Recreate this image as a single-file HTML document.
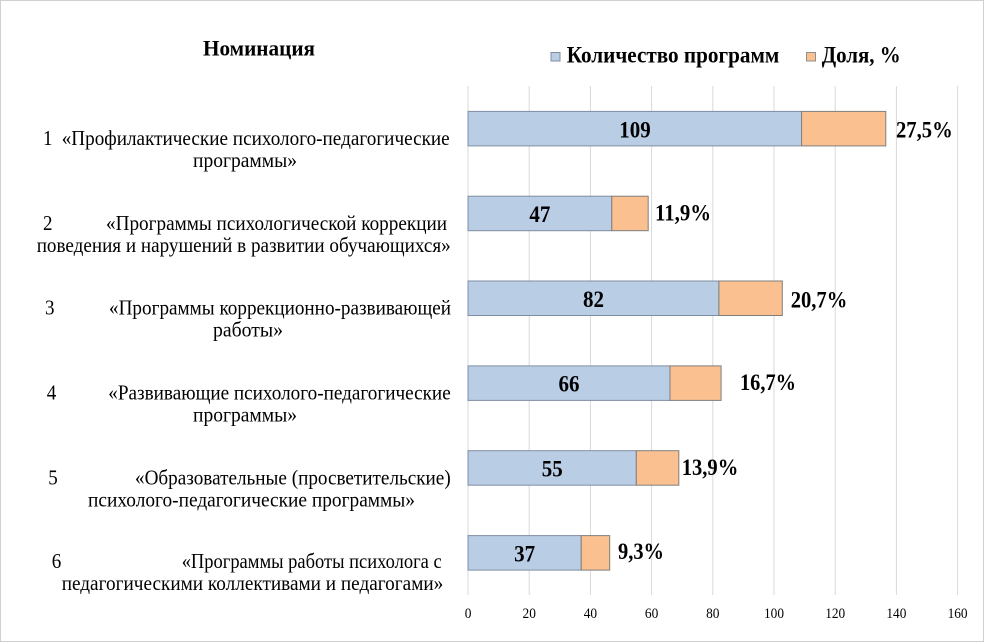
<!DOCTYPE html>
<html>
<head>
<meta charset="utf-8">
<style>
html,body{margin:0;padding:0;background:#fff;}
svg{display:block;}
text{font-family:"Liberation Serif","Noto Serif CJK SC",serif;fill:#000;}
</style>
</head>
<body>
<svg width="984" height="642" viewBox="0 0 984 642" xmlns="http://www.w3.org/2000/svg">
<rect x="0.5" y="0.5" width="983" height="641" fill="#fff" stroke="#d0d0d0" stroke-width="1"/>

<!-- gridlines -->
<g stroke="#d9d9d9" stroke-width="1">
<line x1="468" y1="86" x2="468" y2="595"/>
<line x1="529.2" y1="86" x2="529.2" y2="595"/>
<line x1="590.4" y1="86" x2="590.4" y2="595"/>
<line x1="651.6" y1="86" x2="651.6" y2="595"/>
<line x1="712.8" y1="86" x2="712.8" y2="595"/>
<line x1="774" y1="86" x2="774" y2="595"/>
<line x1="835.2" y1="86" x2="835.2" y2="595"/>
<line x1="896.4" y1="86" x2="896.4" y2="595"/>
<line x1="957.6" y1="86" x2="957.6" y2="595"/>
</g>

<!-- tick labels -->
<g font-size="15">
<text x="464.7" y="618" textLength="6.7" lengthAdjust="spacingAndGlyphs">0</text>
<text x="522.5" y="618" textLength="13.4" lengthAdjust="spacingAndGlyphs">20</text>
<text x="583.7" y="618" textLength="13.4" lengthAdjust="spacingAndGlyphs">40</text>
<text x="644.9" y="618" textLength="13.4" lengthAdjust="spacingAndGlyphs">60</text>
<text x="706.1" y="618" textLength="13.4" lengthAdjust="spacingAndGlyphs">80</text>
<text x="764" y="618" textLength="20" lengthAdjust="spacingAndGlyphs">100</text>
<text x="825.2" y="618" textLength="20" lengthAdjust="spacingAndGlyphs">120</text>
<text x="886.4" y="618" textLength="20" lengthAdjust="spacingAndGlyphs">140</text>
<text x="947.6" y="618" textLength="20" lengthAdjust="spacingAndGlyphs">160</text>
</g>

<!-- title & legend -->
<text x="203" y="55.5" font-size="22" font-weight="bold" textLength="112" lengthAdjust="spacingAndGlyphs">Номинация</text>
<rect x="551" y="52.5" width="9" height="8.5" fill="#b9cde5" stroke="#7f8ea3" stroke-width="1"/>
<text x="566.7" y="62.3" font-size="23" font-weight="bold" textLength="212.6" lengthAdjust="spacingAndGlyphs">Количество программ</text>
<rect x="806.5" y="52.5" width="9" height="8.5" fill="#fac090" stroke="#8f8f8f" stroke-width="1"/>
<text x="821.7" y="62.3" font-size="23" font-weight="bold" textLength="79" lengthAdjust="spacingAndGlyphs">Доля, %</text>

<!-- bars -->
<g stroke-width="1">
<rect x="468" y="111.4" width="333.6" height="34.5" fill="#b9cde5" stroke="#7f8ea3"/>
<rect x="801.6" y="111.4" width="84.2" height="34.5" fill="#fac090" stroke="#7f7f7f"/>

<rect x="468" y="196.2" width="143.8" height="34.5" fill="#b9cde5" stroke="#7f8ea3"/>
<rect x="611.8" y="196.2" width="36.4" height="34.5" fill="#fac090" stroke="#7f7f7f"/>

<rect x="468" y="281" width="250.9" height="34.5" fill="#b9cde5" stroke="#7f8ea3"/>
<rect x="718.9" y="281" width="63.4" height="34.5" fill="#fac090" stroke="#7f7f7f"/>

<rect x="468" y="365.9" width="202" height="34.5" fill="#b9cde5" stroke="#7f8ea3"/>
<rect x="670" y="365.9" width="51.1" height="34.5" fill="#fac090" stroke="#7f7f7f"/>

<rect x="468" y="450.7" width="168.3" height="34.5" fill="#b9cde5" stroke="#7f8ea3"/>
<rect x="636.3" y="450.7" width="42.5" height="34.5" fill="#fac090" stroke="#7f7f7f"/>

<rect x="468" y="535.6" width="113.2" height="34.5" fill="#b9cde5" stroke="#7f8ea3"/>
<rect x="581.2" y="535.6" width="28.5" height="34.5" fill="#fac090" stroke="#7f7f7f"/>
</g>

<!-- value labels -->
<g font-size="23.5" font-weight="bold">
<text x="619.3" y="137.3" textLength="31.4" lengthAdjust="spacingAndGlyphs">109</text>
<text x="529.4" y="222" textLength="21" lengthAdjust="spacingAndGlyphs">47</text>
<text x="583" y="306.8" textLength="21" lengthAdjust="spacingAndGlyphs">82</text>
<text x="558.5" y="391.6" textLength="21" lengthAdjust="spacingAndGlyphs">66</text>
<text x="541.7" y="476.5" textLength="21" lengthAdjust="spacingAndGlyphs">55</text>
<text x="514.1" y="561.3" textLength="21" lengthAdjust="spacingAndGlyphs">37</text>
</g>

<!-- percent labels -->
<g font-size="23.5" font-weight="bold">
<text x="896" y="137.3" textLength="56.7" lengthAdjust="spacingAndGlyphs">27,5%</text>
<text x="655" y="220.7" textLength="56" lengthAdjust="spacingAndGlyphs">11,9%</text>
<text x="790.7" y="307.3" textLength="56.6" lengthAdjust="spacingAndGlyphs">20,7%</text>
<text x="740" y="390" textLength="56" lengthAdjust="spacingAndGlyphs">16,7%</text>
<text x="681.7" y="475" textLength="56.6" lengthAdjust="spacingAndGlyphs">13,9%</text>
<text x="618" y="559" textLength="46" lengthAdjust="spacingAndGlyphs">9,3%</text>
</g>

<!-- category labels -->
<g font-size="21">
<text x="43" y="145" textLength="9.5" lengthAdjust="spacingAndGlyphs">1</text>
<text x="61.7" y="145" textLength="388" lengthAdjust="spacingAndGlyphs">«Профилактические психолого-педагогические</text>
<text x="193" y="167" textLength="104" lengthAdjust="spacingAndGlyphs">программы»</text>

<text x="43" y="229.8" textLength="9.5" lengthAdjust="spacingAndGlyphs">2</text>
<text x="106" y="229.8" textLength="341" lengthAdjust="spacingAndGlyphs">«Программы психологической коррекции</text>
<text x="36.7" y="251.8" textLength="414" lengthAdjust="spacingAndGlyphs">поведения и нарушений в развитии обучающихся»</text>

<text x="45" y="314.6" textLength="9.5" lengthAdjust="spacingAndGlyphs">3</text>
<text x="109" y="314.6" textLength="342" lengthAdjust="spacingAndGlyphs">«Программы коррекционно-развивающей</text>
<text x="213" y="336.6" textLength="70" lengthAdjust="spacingAndGlyphs">работы»</text>

<text x="46.7" y="399.5" textLength="9.5" lengthAdjust="spacingAndGlyphs">4</text>
<text x="108.3" y="399.5" textLength="342.4" lengthAdjust="spacingAndGlyphs">«Развивающие психолого-педагогические</text>
<text x="193" y="421.5" textLength="104" lengthAdjust="spacingAndGlyphs">программы»</text>

<text x="48.3" y="484.3" textLength="9.5" lengthAdjust="spacingAndGlyphs">5</text>
<text x="135" y="484.3" textLength="315.7" lengthAdjust="spacingAndGlyphs">«Образовательные (просветительские)</text>
<text x="88" y="506.3" textLength="327" lengthAdjust="spacingAndGlyphs">психолого-педагогические программы»</text>

<text x="51.7" y="568" textLength="9.5" lengthAdjust="spacingAndGlyphs">6</text>
<text x="181.7" y="568" textLength="260" lengthAdjust="spacingAndGlyphs">«Программы работы психолога с</text>
<text x="61.7" y="590" textLength="381.6" lengthAdjust="spacingAndGlyphs">педагогическими коллективами и педагогами»</text>
</g>
</svg>
</body>
</html>
